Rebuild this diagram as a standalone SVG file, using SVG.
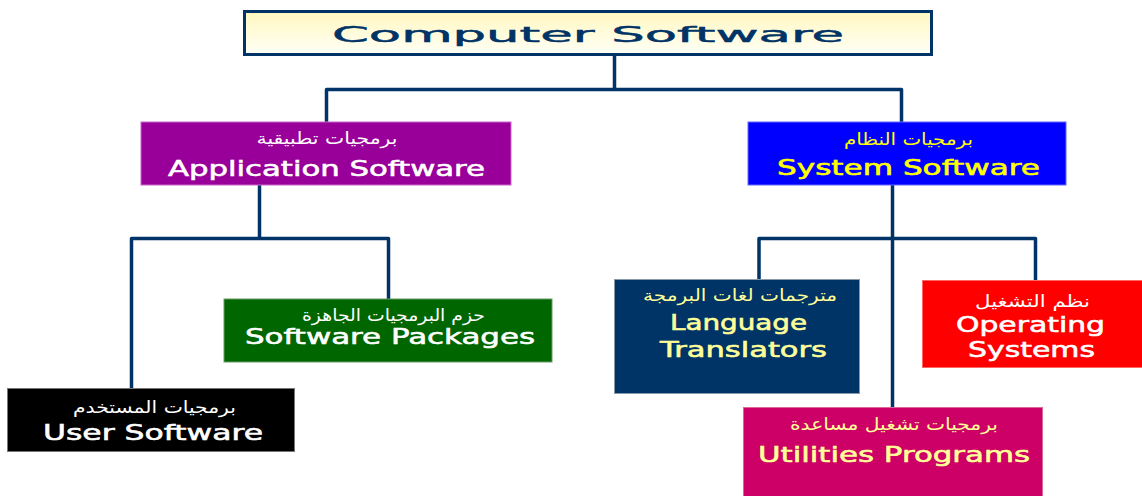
<svg xmlns="http://www.w3.org/2000/svg" width="1142" height="496" viewBox="0 0 1142 496">
<defs>
<linearGradient id="titleGrad" x1="0" y1="0" x2="0" y2="1">
<stop offset="0" stop-color="#FFF8C0"/>
<stop offset="1" stop-color="#FFFFF6"/>
</linearGradient>
<style>
.conn{fill:none;stroke:#003366;stroke-width:3.5;stroke-linejoin:round;stroke-linecap:butt}
.box{stroke-width:1}
.en{font-family:"DejaVu Sans","Liberation Sans",sans-serif;font-size:22px;text-anchor:middle;stroke-width:0.6}
.ar{font-family:"DejaVu Sans","Noto Sans",sans-serif;font-size:16.5px;text-anchor:middle}
.w{fill:#FFFFFF;stroke:#FFFFFF}
.y{fill:#FFFF00;stroke:#FFFF00}
.ly{fill:#FFFF99;stroke:#FFFF99}
.ar.w,.ar.y,.ar.ly{stroke:none}
</style>
</defs>
<rect width="1142" height="496" fill="#FFFFFF"/>
<g id="connectors">
<path class="conn" d="M614.5 55 V89.5 M326.5 122 V89.5 H901.5 V122"/>
<path class="conn" d="M259.5 185 V238.5 M131.5 388 V238.5 H388.5 V299"/>
<path class="conn" d="M892.5 185 V407 M759 279 V238.5 H1035.5 V280"/>
</g>
<g id="title">
<rect x="244.5" y="11.5" width="687" height="43" fill="url(#titleGrad)" stroke="#003366" stroke-width="3"/>
<text x="588" y="42" font-family="DejaVu Sans,sans-serif" font-size="22" fill="#003366" stroke="#003366" stroke-width="0.5" text-anchor="middle" textLength="512" lengthAdjust="spacingAndGlyphs">Computer Software</text>
</g>
<g id="application">
<rect class="box" x="141" y="122" width="370" height="63" fill="#990099" stroke="#CC66CC"/>
<text class="ar w" x="327" y="144" textLength="141" lengthAdjust="spacingAndGlyphs">برمجيات تطبيقية</text>
<text class="en w" x="326.5" y="175.5" textLength="317" lengthAdjust="spacingAndGlyphs">Application Software</text>
</g>
<g id="system">
<rect class="box" x="748" y="122" width="318" height="63" fill="#0000FF" stroke="#6666FF"/>
<text class="ar y" x="908.5" y="145" textLength="129" lengthAdjust="spacingAndGlyphs">برمجيات النظام</text>
<text class="en y" x="908.5" y="175" textLength="263" lengthAdjust="spacingAndGlyphs">System Software</text>
</g>
<g id="packages">
<rect class="box" x="224" y="299" width="328" height="63" fill="#006600" stroke="#669966"/>
<text class="ar w" x="393.5" y="321" textLength="183" lengthAdjust="spacingAndGlyphs">حزم البرمجيات الجاهزة</text>
<text class="en w" x="390" y="343.5" textLength="290" lengthAdjust="spacingAndGlyphs">Software Packages</text>
</g>
<g id="user">
<rect class="box" x="7.5" y="388.5" width="287" height="63" fill="#000000" stroke="#777777"/>
<text class="ar w" x="154.5" y="413" textLength="163" lengthAdjust="spacingAndGlyphs">برمجيات المستخدم</text>
<text class="en w" x="153" y="440" textLength="220" lengthAdjust="spacingAndGlyphs">User Software</text>
</g>
<g id="language">
<rect class="box" x="614.5" y="279.5" width="245" height="114" fill="#003366" stroke="#8899AA"/>
<text class="ar ly" x="740" y="301" textLength="194" lengthAdjust="spacingAndGlyphs">مترجمات لغات البرمجة</text>
<text class="en ly" x="738.5" y="330" textLength="137" lengthAdjust="spacingAndGlyphs">Language</text>
<text class="en ly" x="743.5" y="357" textLength="167" lengthAdjust="spacingAndGlyphs">Translators</text>
</g>
<g id="operating">
<rect class="box" x="922.5" y="280.5" width="220" height="87" fill="#FF0000" stroke="#FF6666"/>
<text class="ar w" x="1032.5" y="307" textLength="115" lengthAdjust="spacingAndGlyphs">نظم التشغيل</text>
<text class="en w" x="1030.5" y="332" textLength="149" lengthAdjust="spacingAndGlyphs">Operating</text>
<text class="en w" x="1031.5" y="357" textLength="127" lengthAdjust="spacingAndGlyphs">Systems</text>
</g>
<g id="utilities">
<rect class="box" x="743.5" y="407.5" width="299" height="89" fill="#CC0066" stroke="#DD6699"/>
<text class="ar ly" x="894" y="430" textLength="208" lengthAdjust="spacingAndGlyphs">برمجيات تشغيل مساعدة</text>
<text class="en ly" x="894" y="462" textLength="272" lengthAdjust="spacingAndGlyphs">Utilities Programs</text>
</g>
</svg>
